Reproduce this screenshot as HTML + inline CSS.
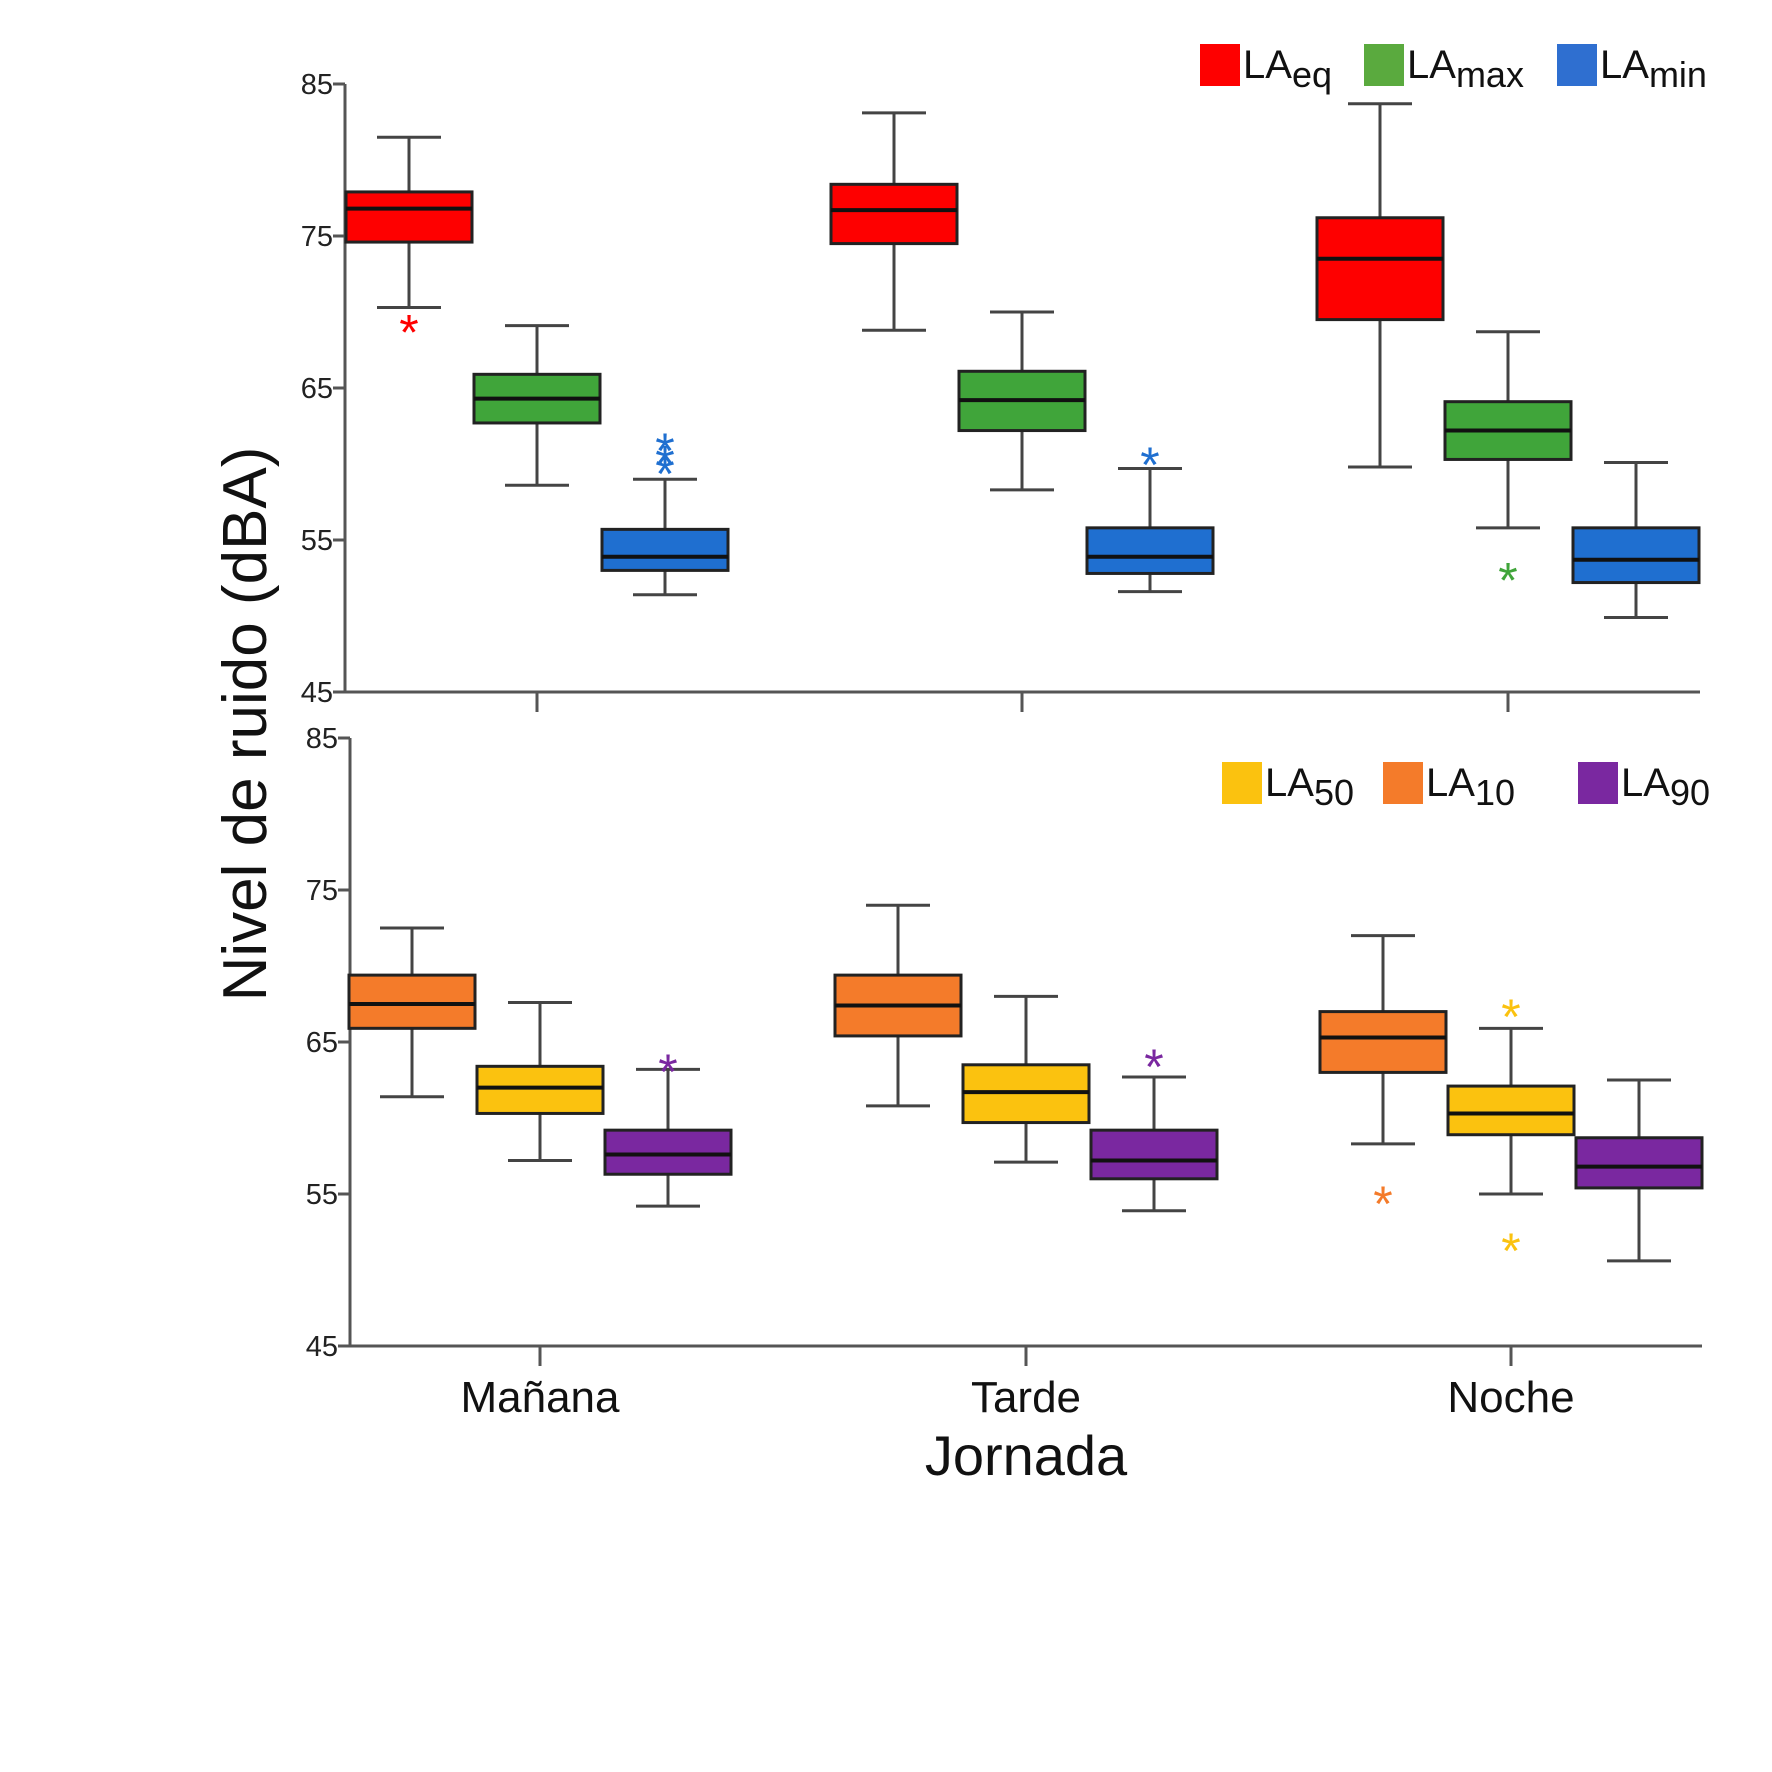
<!DOCTYPE html>
<html><head><meta charset="utf-8">
<style>
html,body{margin:0;padding:0;background:#fff;}
svg{display:block;font-family:"Liberation Sans",Arial,sans-serif;}
</style></head>
<body>
<svg id="chart" width="1772" height="1772" viewBox="0 0 1772 1772" xmlns="http://www.w3.org/2000/svg">
<rect width="1772" height="1772" fill="#fff"/>
<g id="top"></g>
<g id="bot"></g>
<text transform="translate(266,724) rotate(-90)" text-anchor="middle" font-size="62" fill="#111">Nivel de ruido (dBA)</text>
<text x="1026" y="1475" text-anchor="middle" font-size="56" fill="#111">Jornada</text>
</svg>
<script>
const categories = ["Mañana","Tarde","Noche"];
const yTicks = [45,55,65,75,85];
// top panel series: [low, q1, median, q3, high] per category
const seriesTopNames = ["LAeq","LAmax","LAmin"];
const laeq = [[70.3,74.6,76.8,77.9,81.5],[68.8,74.5,76.7,78.4,83.1],[59.8,69.5,73.5,76.2,83.7]];
const lamax = [[58.6,62.7,64.3,65.9,69.1],[58.3,62.2,64.2,66.1,70.0],[55.8,60.3,62.2,64.1,68.7]];
const lamin = [[51.4,53.0,53.9,55.7,59.0],[51.6,52.8,53.9,55.8,59.7],[49.9,52.2,53.7,55.8,60.1]];
const laeqOut = [[69.1],[],[]];
const lamaxOut = [[],[],[52.8]];
const laminOut = [[61.3,60.5,59.8],[60.4],[]];
// bottom panel
const la10 = [[61.4,65.9,67.5,69.4,72.5],[60.8,65.4,67.4,69.4,74.0],[58.3,63.0,65.3,67.0,72.0]];
const la50 = [[57.2,60.3,62.0,63.4,67.6],[57.1,59.7,61.7,63.5,68.0],[55.0,58.9,60.3,62.1,65.9]];
const la90 = [[54.2,56.3,57.6,59.2,63.2],[53.9,56.0,57.2,59.2,62.7],[50.6,55.4,56.8,58.7,62.5]];
const la10Out = [[],[],[54.8]];
const la50Out = [[],[],[67.1,51.7]];
const la90Out = [[63.5],[63.8],[]];

const NS="http://www.w3.org/2000/svg";
function mk(parent,tag,attrs){const e=document.createElementNS(NS,tag);for(const k in attrs)e.setAttribute(k,attrs[k]);parent.appendChild(e);return e;}

function panel(g,cfg){
  const y=v=>cfg.y0+(v-45)/(85-45)*(cfg.y1-cfg.y0);
  const x=i=>cfg.cx[i];
  const ya=mk(g,'line',{x1:cfg.ax,y1:y(85),x2:cfg.ax,y2:y(45),stroke:'#555','stroke-width':3});
  
  
  const xa=mk(g,'line',{x1:cfg.ax,y1:y(45),x2:cfg.axEnd,y2:y(45),stroke:'#555','stroke-width':3});
  
  
  yTicks.forEach(t=>{
    const l=mk(g,'line',{x1:cfg.ax-12,y1:y(t),x2:cfg.ax,y2:y(t),stroke:'#555','stroke-width':3});
    
    
    const tx=mk(g,'text',{x:cfg.ax-12,y:y(t)+10,'text-anchor':'end','font-size':29,fill:'#222'});
    tx.textContent=t;
    
    
  });
  categories.forEach((c,i)=>{
    const l=mk(g,'line',{x1:x(i),y1:y(45),x2:x(i),y2:y(45)+20,stroke:'#555','stroke-width':3});
    
    
    if(cfg.labels){
      const t=mk(g,'text',{x:x(i),y:y(45)+66,'text-anchor':'middle','font-size':44,fill:'#111'});
      t.textContent=c;
      
      
    }
  });
  const off=[-128,0,128];
  cfg.series.forEach((s,si)=>{
    s.data.forEach((d,i)=>{
      const cx=x(i)+off[si];
      const [lo,q1,md,q3,hi]=d;
      const bg=mk(g,'g',{});
      
      
      mk(bg,'line',{x1:cx,y1:y(hi),x2:cx,y2:y(q3),stroke:'#444','stroke-width':3});
      mk(bg,'line',{x1:cx,y1:y(q1),x2:cx,y2:y(lo),stroke:'#444','stroke-width':3});
      mk(bg,'line',{x1:cx-32,y1:y(hi),x2:cx+32,y2:y(hi),stroke:'#444','stroke-width':3});
      mk(bg,'line',{x1:cx-32,y1:y(lo),x2:cx+32,y2:y(lo),stroke:'#444','stroke-width':3});
      mk(bg,'rect',{x:cx-63,y:y(q3),width:126,height:y(q1)-y(q3),fill:s.color,stroke:'#222','stroke-width':3});
      mk(bg,'line',{x1:cx-63,y1:y(md),x2:cx+63,y2:y(md),stroke:'#111','stroke-width':4});
      s.out[i].forEach(o=>{
        const t=mk(bg,'text',{x:cx,y:y(o)+24,'text-anchor':'middle','font-size':50,fill:s.color});
        t.textContent='*';
      });
    });
  });
  cfg.legend.forEach(L=>{
    const lg=mk(g,'g',{});
    
    
    mk(lg,'rect',{x:L.x,y:cfg.ly,width:40,height:42,fill:L.color});
    const t=mk(lg,'text',{x:L.x+43,y:cfg.ly+34,'font-size':40,fill:'#111'});
    const a=document.createElementNS(NS,'tspan');a.textContent='LA';t.appendChild(a);
    const b=document.createElementNS(NS,'tspan');b.setAttribute('dy','9');b.setAttribute('font-size','36');b.textContent=L.sub;t.appendChild(b);
  });
}

panel(document.getElementById('top'),{
  y0:692,y1:84,ax:345,axEnd:1700,cx:[537,1022,1508],labels:false,ly:44,
  series:[{name:'LAeq',color:'#fe0000',data:laeq,out:laeqOut},{name:'LAmax',color:'#40a53a',data:lamax,out:lamaxOut},{name:'LAmin',color:'#1f6fd0',data:lamin,out:laminOut}],
  legend:[{name:'LAeq',sub:'eq',x:1200,color:'#fe0000'},{name:'LAmax',sub:'max',x:1364,color:'#5aaa3e'},{name:'LAmin',sub:'min',x:1557,color:'#2f6fd0'}]
});
panel(document.getElementById('bot'),{
  y0:1346,y1:738,ax:350,axEnd:1702,cx:[540,1026,1511],labels:true,ly:762,
  series:[{name:'LA10',color:'#f47b2a',data:la10,out:la10Out},{name:'LA50',color:'#fbc20f',data:la50,out:la50Out},{name:'LA90',color:'#7a28a0',data:la90,out:la90Out}],
  legend:[{name:'LA50',sub:'50',x:1222,color:'#fbc20f'},{name:'LA10',sub:'10',x:1383,color:'#f47b2a'},{name:'LA90',sub:'90',x:1578,color:'#7a28a0'}]
});
</script>
</body></html>
